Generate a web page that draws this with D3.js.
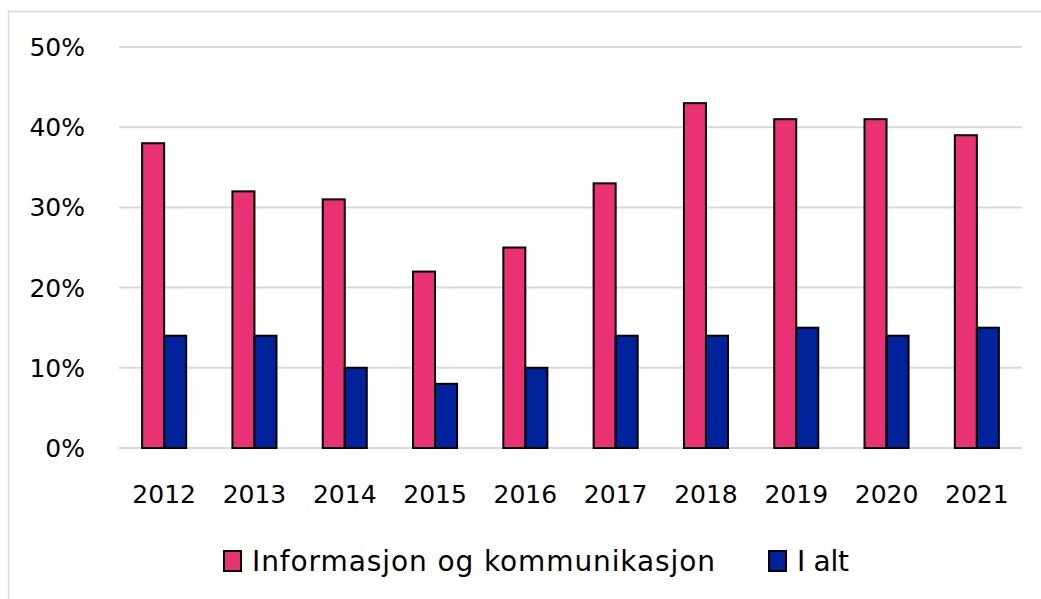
<!DOCTYPE html>
<html>
<head>
<meta charset="utf-8">
<script src="https://cdn.jsdelivr.net/npm/d3@7"></script>
<style>
  body { margin: 0; background: #fff; }
  svg text { font-family: "DejaVu Sans", "Open Sans", sans-serif; fill: #000; }
</style>
</head>
<body>
<div id="chart"></div>
<script>
const years = ['2012', '2013', '2014', '2015', '2016', '2017', '2018', '2019', '2020', '2021'];
const seriesNames = ['Informasjon og kommunikasjon', 'I alt'];
const infoKomm = [38, 32, 31, 22, 25, 33, 43, 41, 41, 39];
const iAlt = [14, 14, 10, 8, 10, 14, 14, 15, 14, 15];
const colors = ['#e83273', '#00239c'];
const yTicks = [0, 10, 20, 30, 40, 50];

const width = 1041;
const height = 599;
const margin = { top: 47, right: 19, bottom: 151, left: 119 };

const svg = d3.select('#chart')
    .append('svg')
    .attr('width', width)
    .attr('height', height);

// outer frame
svg.append('rect')
    .attr('x', 8.5)
    .attr('y', 11.5)
    .attr('width', width)
    .attr('height', height)
    .attr('fill', 'none')
    .attr('stroke', '#d9d9d9')
    .attr('stroke-width', 1.5);

const x = d3.scaleBand()
    .domain(years)
    .range([margin.left, width - margin.right]);

const xSub = d3.scaleBand()
    .domain(seriesNames)
    .range([0, x.bandwidth()])
    .paddingInner(0)
    .paddingOuter(1.05);

const y = d3.scaleLinear()
    .domain([0, 50])
    .range([height - margin.bottom, margin.top]);

// gridlines
svg.append('g')
    .selectAll('line')
    .data(yTicks)
    .enter().append('line')
    .attr('x1', margin.left)
    .attr('x2', width - margin.right)
    .attr('y1', d => y(d))
    .attr('y2', d => y(d))
    .attr('stroke', '#d9d9d9')
    .attr('stroke-width', 2);

// y labels
svg.append('g')
    .selectAll('text')
    .data(yTicks)
    .enter().append('text')
    .attr('x', 85)
    .attr('y', d => y(d))
    .attr('dy', '0.36em')
    .attr('text-anchor', 'end')
    .attr('font-size', 25)
    .text(d => d + '%');

const data = years.map((yr, i) => ({ year: yr, values: [infoKomm[i], iAlt[i]] }));

const groups = svg.append('g')
    .selectAll('g')
    .data(data)
    .enter().append('g')
    .attr('transform', d => `translate(${x(d.year)},0)`);

groups.selectAll('rect')
    .data(d => d.values.map((v, k) => ({ name: seriesNames[k], value: v, k })))
    .enter().append('rect')
    .attr('x', d => xSub(d.name))
    .attr('y', d => y(d.value))
    .attr('width', xSub.bandwidth())
    .attr('height', d => y(0) - y(d.value))
    .attr('fill', d => colors[d.k])
    .attr('stroke', '#000')
    .attr('stroke-width', 2);

// x labels
svg.append('g')
    .selectAll('text')
    .data(years)
    .enter().append('text')
    .attr('x', d => x(d) + x.bandwidth() / 2)
    .attr('y', 494)
    .attr('dy', '0.36em')
    .attr('text-anchor', 'middle')
    .attr('font-size', 25)
    .text(d => d);

// legend
const legendX = [224, 769];
const legendTextLen = [463, 52];
const legend = svg.append('g')
    .selectAll('g')
    .data(seriesNames)
    .enter().append('g')
    .attr('transform', (d, i) => `translate(${legendX[i]},561)`);

legend.append('rect')
    .attr('x', 0)
    .attr('y', -10)
    .attr('width', 17)
    .attr('height', 20)
    .attr('fill', (d, i) => colors[i])
    .attr('stroke', '#000')
    .attr('stroke-width', 2);

legend.append('text')
    .attr('x', 28)
    .attr('y', 0)
    .attr('dy', '0.36em')
    .attr('font-size', 28)
    .attr('textLength', (d, i) => legendTextLen[i])
    .attr('lengthAdjust', 'spacing')
    .text(d => d);
</script>
</body>
</html>
